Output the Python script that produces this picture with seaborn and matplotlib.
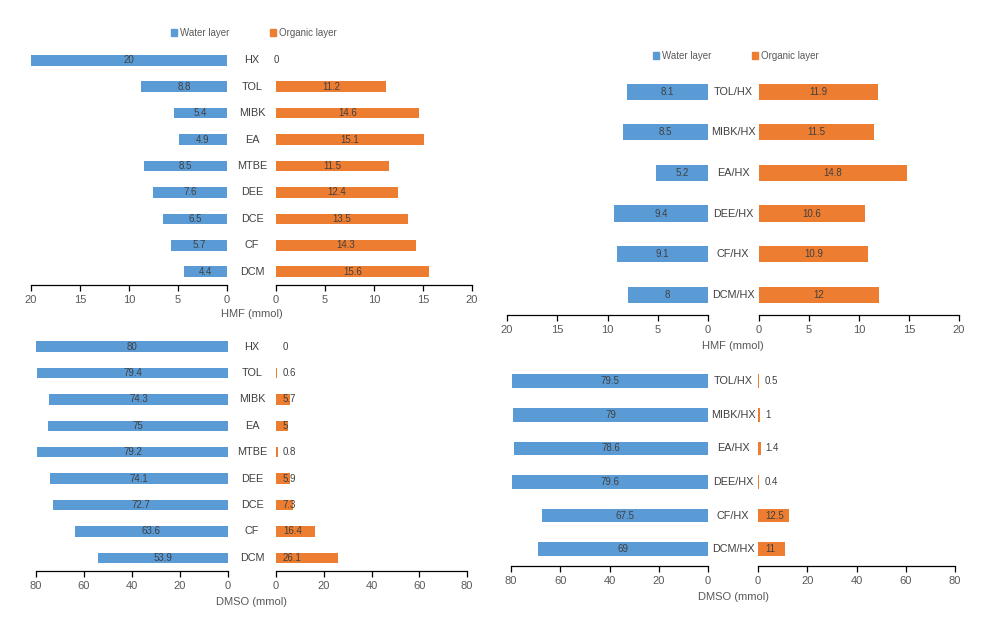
import matplotlib
matplotlib.use("Agg")
import matplotlib.pyplot as plt
import matplotlib.transforms as mtransforms
from matplotlib.patches import Patch
import seaborn as sns
import pandas as pd

# ---------------- data ----------------
hmf_cats = ["HX", "TOL", "MIBK", "EA", "MTBE", "DEE", "DCE", "CF", "DCM"]
hmf_water = [20, 8.8, 5.4, 4.9, 8.5, 7.6, 6.5, 5.7, 4.4]
hmf_org = [0, 11.2, 14.6, 15.1, 11.5, 12.4, 13.5, 14.3, 15.6]

mix_cats = ["TOL/HX", "MIBK/HX", "EA/HX", "DEE/HX", "CF/HX", "DCM/HX"]
hmf_mix_water = [8.1, 8.5, 5.2, 9.4, 9.1, 8]
hmf_mix_org = [11.9, 11.5, 14.8, 10.6, 10.9, 12]

dmso_cats = ["HX", "TOL", "MIBK", "EA", "MTBE", "DEE", "DCE", "CF", "DCM"]
dmso_water = [80, 79.4, 74.3, 75, 79.2, 74.1, 72.7, 63.6, 53.9]
dmso_org = [0, 0.6, 5.7, 5, 0.8, 5.9, 7.3, 16.4, 26.1]

dmso_mix_water = [79.5, 79, 78.6, 79.6, 67.5, 69]
dmso_mix_org = [0.5, 1, 1.4, 0.4, 12.5, 11]

hmf_ticks = [0, 5, 10, 15, 20]
dmso_ticks = [0, 20, 40, 60, 80]
legend_labels = ["Water layer", "Organic layer"]

# ---------------- style ----------------
sns.set_style("white")
plt.rcParams["font.family"] = ["Liberation Sans", "DejaVu Sans"]

BLUE = "#5B9BD5"
ORANGE = "#ED7D31"
TXT = "#404040"
TICK = "#595959"

W, H = 991, 618
fig = plt.figure(figsize=(W / 100, H / 100), dpi=100)


def rect(x0, x1, ytop, ybot):
    return [x0 / W, 1 - ybot / H, (x1 - x0) / W, (ybot - ytop) / H]


def style_ax(ax, xmax, ticks, n, reverse):
    ax.set_xlim((xmax, 0) if reverse else (0, xmax))
    ax.set_ylim(n - 0.5, -0.5)
    ax.set_xticks(ticks)
    ax.set_yticks([])
    ax.set_xlabel("")
    ax.set_ylabel("")
    for s in ["left", "right", "top"]:
        ax.spines[s].set_visible(False)
    ax.spines["bottom"].set_color("black")
    ax.spines["bottom"].set_linewidth(0.9)
    ax.tick_params(axis="x", direction="out", length=4, width=0.9, color="black",
                   labelcolor=TICK, labelsize=8, pad=3, bottom=True)
    ax.set_facecolor("none")
    ax.grid(False)


def panel(cats, water, org, xmax, ticks, px, ytop, ybot, cat_x, xlabel, xlabel_y,
          base_labels=False):
    n = len(cats)
    df = pd.DataFrame({"cat": cats, "water": water, "org": org})
    axL = fig.add_axes(rect(px[0], px[1], ytop, ybot))
    axR = fig.add_axes(rect(px[2], px[3], ytop, ybot))
    sns.barplot(data=df, x="water", y="cat", orient="h", color=BLUE, saturation=1,
                width=0.4, linewidth=0, ax=axL)
    sns.barplot(data=df, x="org", y="cat", orient="h", color=ORANGE, saturation=1,
                width=0.4, linewidth=0, ax=axR)
    style_ax(axL, xmax, ticks, n, True)
    style_ax(axR, xmax, ticks, n, False)
    for i, (w, o) in enumerate(zip(water, org)):
        axL.text(w / 2, i, f"{w:g}", ha="center", va="center", fontsize=7, color=TXT)
        if base_labels:
            axR.annotate(f"{o:g}", (0, i), xytext=(5, 0), textcoords="offset points",
                         ha="left", va="center", fontsize=7, color=TXT)
        else:
            axR.text(o / 2, i, f"{o:g}", ha="center", va="center", fontsize=7, color=TXT)
    tr = mtransforms.blended_transform_factory(fig.transFigure, axL.transData)
    for i, c in enumerate(cats):
        fig.text(cat_x / W, i, c, transform=tr, ha="center", va="center",
                 fontsize=7.8, color=TXT)
    fig.text(cat_x / W, 1 - xlabel_y / H, xlabel, ha="center", va="center",
             fontsize=8, color=TICK)
    return axL, axR


panel(hmf_cats, hmf_water, hmf_org, 20, hmf_ticks, (31, 227, 276, 472), 47, 285,
      252, "HMF (mmol)", 314)
panel(mix_cats, hmf_mix_water, hmf_mix_org, 20, hmf_ticks, (507, 708, 759, 959), 71.4, 315,
      733, "HMF (mmol)", 346)
panel(dmso_cats, dmso_water, dmso_org, 80, dmso_ticks, (35.5, 228, 276, 467), 333.4, 571,
      252, "DMSO (mmol)", 602, base_labels=True)
panel(mix_cats, dmso_mix_water, dmso_mix_org, 80, dmso_ticks, (511, 708, 758, 955), 364.4, 566,
      733, "DMSO (mmol)", 597, base_labels=True)

handles = [Patch(color=BLUE, label=legend_labels[0]), Patch(color=ORANGE, label=legend_labels[1])]
for cx, cy in [(254, 33), (736, 56)]:
    leg = fig.legend(handles=handles, loc="center", bbox_to_anchor=(cx / W, 1 - cy / H),
                     ncol=2, frameon=False, fontsize=7, handlelength=0.6, handleheight=0.6,
                     handletextpad=0.3, columnspacing=4.2, borderpad=0)
    for t in leg.get_texts():
        t.set_color(TICK)

fig.savefig("out.png", dpi=100)
